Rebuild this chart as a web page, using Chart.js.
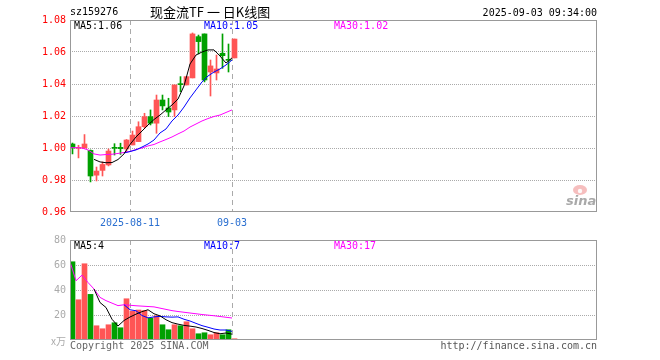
<!DOCTYPE html>
<html><head><meta charset="utf-8">
<script src="https://cdn.jsdelivr.net/npm/chart.js@4/dist/chart.umd.min.js"></script>
<style>
html,body{margin:0;padding:0;background:#fff;}
#wrap{position:relative;width:660px;height:360px;background:#fff;}
canvas{position:absolute;left:0;top:0;}
</style></head><body>
<div id="wrap"><canvas id="price" width="660" height="360"></canvas><canvas id="vol" width="660" height="360"></canvas></div>
<script>
// ---- data ----
const dates = ['2025-07-28','2025-07-29','2025-07-30','2025-07-31','2025-08-01','2025-08-04','2025-08-05','2025-08-06','2025-08-07','2025-08-08',
  '2025-08-11','2025-08-12','2025-08-13','2025-08-14','2025-08-15','2025-08-18','2025-08-19','2025-08-20','2025-08-21','2025-08-22',
  '2025-08-25','2025-08-26','2025-08-27','2025-08-28','2025-08-29','2025-09-01','2025-09-02','2025-09-03'];
const open  = [1.0025,0.9998,1.0000,0.9985,0.9830,0.9860,0.9894,1.0002,1.0004,0.9994,1.0019,1.0040,1.0133,1.0196,1.0155,1.0300,1.0250,1.0238,1.0401,1.0394,1.0438,1.0696,1.0713,1.0475,1.0469,1.0592,1.0553,1.0563];
const high  = [1.0031,1.0017,1.0084,0.9988,0.9881,0.9913,0.9994,1.0027,1.0030,1.0053,1.0106,1.0164,1.0217,1.0238,1.0331,1.0331,1.0311,1.0394,1.0446,1.0446,1.0719,1.0706,1.0713,1.0550,1.0581,1.0713,1.0650,1.0681];
const low   = [0.9963,0.9938,0.9998,0.9788,0.9794,0.9825,0.9888,0.9956,0.9960,0.9977,1.0019,1.0040,1.0125,1.0144,1.0092,1.0238,1.0196,1.0196,1.0352,1.0394,1.0438,1.0588,1.0413,1.0325,1.0425,1.0498,1.0475,1.0563];
const close = [1.0000,1.0002,1.0025,0.9825,0.9856,0.9897,0.9981,0.9998,0.9996,1.0050,1.0081,1.0133,1.0196,1.0155,1.0300,1.0263,1.0225,1.0394,1.0396,1.0446,1.0713,1.0665,1.0425,1.0513,1.0494,1.0577,1.0548,1.0681];
const ma5  = [null,null,null,null,0.9929,0.9913,0.9908,0.9909,0.9928,0.9963,1.0022,1.0069,1.0106,1.0144,1.0178,1.0206,1.0238,1.0269,1.0306,1.0388,1.0525,1.0581,1.0600,1.0613,1.0613,1.0575,1.0531,1.0563];
const ma10 = [null,null,null,null,null,null,null,null,null,0.9969,0.9978,0.9988,1.0006,1.0025,1.0050,1.0094,1.0119,1.0169,1.0206,1.0256,1.0313,1.0363,1.0413,1.0450,1.0475,1.0494,1.0519,1.0550];
const ma30 = [1.0002,1.0002,1.0000,0.9988,0.9963,0.9956,0.9959,0.9961,0.9966,0.9972,0.9978,0.9991,1.0000,1.0013,1.0022,1.0038,1.0053,1.0069,1.0088,1.0106,1.0131,1.0150,1.0169,1.0184,1.0197,1.0206,1.0222,1.0238];
const volume  = [62.6,32.2,61.0,36.5,11.4,9.0,12.2,13.8,9.8,33.0,23.0,24.0,23.5,17.6,19.4,12.2,8.2,12.2,11.4,14.6,9.0,5.0,5.8,4.2,5.8,4.2,8.2,1.0];
const volMa5  = [null,null,null,null,40.8,30.0,26.0,16.6,11.2,15.6,18.4,20.7,22.7,24.2,21.0,19.3,16.2,13.9,12.7,11.7,11.1,10.4,9.2,7.7,6.0,5.0,5.6,4.7];
const volMa10 = [null,null,null,null,null,null,null,null,null,28.2,24.2,23.4,19.6,17.7,18.5,18.9,18.5,18.3,18.5,16.6,15.2,13.3,11.5,10.2,8.8,8.0,8.0,6.9];
const volMa30 = [62.6,47.4,51.9,46.0,40.8,34.1,31.5,29.5,27.5,28.2,27.8,27.4,27.1,26.8,26.5,25.5,24.5,23.5,22.8,22.2,21.6,21.0,20.4,19.9,19.4,18.8,18.2,17.6];
const priceTicks = [0.96,0.98,1.00,1.02,1.04,1.06,1.08];
const volTicks = [0,20,40,60,80];
const xTickDates = ['2025-08-11','2025-09-03'];
const xTickText = ['2025-08-11','09-03'];
const priceMaLabels = ['MA5:1.06','MA10:1.05','MA30:1.02'];
const volMaLabels = ['MA5:4','MA10:7','MA30:17'];
const code = 'sz159276';
const title = '现金流TF 一 日K线图';
const stamp = '2025-09-03 09:34:00';

// ---- styling / layout ----
const RED = '#ff5555', GREEN = '#00a000';
const MONO = '"DejaVu Sans Mono", "Liberation Mono", monospace';
const EDGE = -5/12;               // bar i centre sits at i, its left edge at i+EDGE
const XMIN = EDGE, XMAX = EDGE + 527/6;
const colors = dates.map((d,i) => close[i] >= open[i] ? RED : GREEN);
const gridColorFn = n => c => (c.index === 0 || c.index === n-1) ? 'rgba(0,0,0,0)' : '#aaa';

function xScale(showLabels, h) {
  return {
    type:'linear', min:XMIN, max:XMAX, position:'bottom', offset:false, bounds:'ticks',
    afterDataLimits: s => { s.min = XMIN; s.max = XMAX; },
    afterBuildTicks: s => { s.ticks = xTickDates.map(d => ({value: dates.indexOf(d) + EDGE})); },
    afterFit: s => { s.height = h; },
    ticks:{display:showLabels, autoSkip:false, maxRotation:0, minRotation:0, padding:5,
      color:'#2a6fd0', font:{family:MONO, size:10},
      callback:(v, idx) => xTickText[idx]},
    grid:{color:'#aaa', lineWidth:1, drawTicks:false, offset:false},
    border:{display:false, dash:[5,4]}
  };
}
function yScale(ticksArr, color, fmt) {
  return {
    type:'linear', min:ticksArr[0], max:ticksArr[ticksArr.length-1], position:'left',
    afterBuildTicks: s => { s.ticks = ticksArr.map(v => ({value:v})); },
    afterFit: s => { s.width = 70; },
    ticks:{padding:4, color:color, font:{family:MONO, size:10}, callback:fmt},
    grid:{color:gridColorFn(ticksArr.length), lineWidth:1, drawTicks:false},
    border:{display:false, dash:[1,1]}
  };
}
function lineDs(arr, color) {
  return {type:'line', data:arr.map((v,i)=>({x:i+EDGE, y:v})), borderColor:color, borderWidth:1,
    pointRadius:0, fill:false, tension:0, order:1, spanGaps:false};
}
function txt(ctx, s, x, y, color, font, align) {
  ctx.font = font; ctx.fillStyle = color; ctx.textAlign = align || 'left'; ctx.textBaseline = 'middle';
  ctx.fillText(s, x, y);
}

const pricePlugin = {
  id:'priceExtras',
  afterDraw(chart) {
    const ctx = chart.ctx, a = chart.chartArea;
    ctx.save();
    ctx.strokeStyle = '#999'; ctx.lineWidth = 1;
    ctx.strokeRect(a.left+0.5, a.top+0.5, a.right-a.left-1, a.bottom-a.top-1);
    const f = '10px ' + MONO;
    txt(ctx, code, 70, 12, '#000', f);
    txt(ctx, title, 150, 12, '#000', '13px "Noto Sans CJK SC"');
    txt(ctx, stamp, a.right, 13, '#000', f, 'right');
    txt(ctx, priceMaLabels[0], 74, 26, '#000', f);
    txt(ctx, priceMaLabels[1], 204, 26, '#0000ff', f);
    txt(ctx, priceMaLabels[2], 334, 26, '#ff00ff', f);
    // faint sina watermark
    ctx.fillStyle = 'rgba(235,110,110,0.45)';
    ctx.beginPath(); ctx.ellipse(580, 190, 7, 5, 0, 0, Math.PI*2); ctx.fill();
    ctx.fillStyle = 'rgba(255,255,255,0.9)';
    ctx.beginPath(); ctx.arc(580, 191, 2.2, 0, Math.PI*2); ctx.fill();
    txt(ctx, 'sina', 566, 202, 'rgba(140,140,140,0.75)', 'italic bold 13px "DejaVu Sans"');
    ctx.restore();
  }
};
const volPlugin = {
  id:'volExtras',
  afterDraw(chart) {
    const ctx = chart.ctx, a = chart.chartArea;
    ctx.save();
    ctx.strokeStyle = '#999'; ctx.lineWidth = 1;
    ctx.strokeRect(a.left+0.5, a.top+0.5, a.right-a.left-1, a.bottom-a.top-1);
    const f = '10px ' + MONO;
    txt(ctx, volMaLabels[0], 74, 246, '#000', f);
    txt(ctx, volMaLabels[1], 204, 246, '#0000ff', f);
    txt(ctx, volMaLabels[2], 334, 246, '#ff00ff', f);
    txt(ctx, 'x万', 66, 341, '#aaa', '10px "Noto Sans CJK SC"', 'right');
    txt(ctx, 'Copyright 2025 SINA.COM', 70, 346, '#666', f);
    txt(ctx, 'http://finance.sina.com.cn', a.right, 346, '#555', f, 'right');
    ctx.restore();
  }
};

const common = {responsive:false, animation:false, devicePixelRatio:1, events:[],
  plugins:{legend:{display:false}, tooltip:{enabled:false}}};

new Chart(document.getElementById('price'), {
  type:'line',
  data:{datasets:[
    lineDs(ma5, '#000000'), lineDs(ma10, '#0000ff'), lineDs(ma30, '#ff00ff'),
    {type:'bar', data:dates.map((d,i)=>({x:i, y:[open[i], close[i]]})), backgroundColor:colors,
      barThickness:5, grouped:false, minBarLength:1, borderWidth:0, order:2},
    {type:'bar', data:dates.map((d,i)=>({x:i, y:[low[i], high[i]]})), backgroundColor:colors,
      barThickness:1, grouped:false, minBarLength:1, borderWidth:0, order:3}
  ]},
  options:Object.assign({}, common, {
    layout:{padding:{top:20, right:63, bottom:0, left:0}},
    scales:{x:xScale(true, 148), y:yScale(priceTicks, '#ff0000', v => v.toFixed(2))}
  }),
  plugins:[pricePlugin]
});

new Chart(document.getElementById('vol'), {
  type:'line',
  data:{datasets:[
    lineDs(volMa5, '#000000'), lineDs(volMa10, '#0000ff'), lineDs(volMa30, '#ff00ff'),
    {type:'bar', data:dates.map((d,i)=>({x:i, y:volume[i]})), backgroundColor:colors,
      barThickness:5, grouped:false, borderWidth:0, order:2}
  ]},
  options:Object.assign({}, common, {
    layout:{padding:{top:240, right:63, bottom:0, left:0}},
    scales:{x:xScale(false, 20), y:yScale(volTicks, '#aaaaaa', v => v === 0 ? '' : String(v))}
  }),
  plugins:[volPlugin]
});
</script>
</body></html>
